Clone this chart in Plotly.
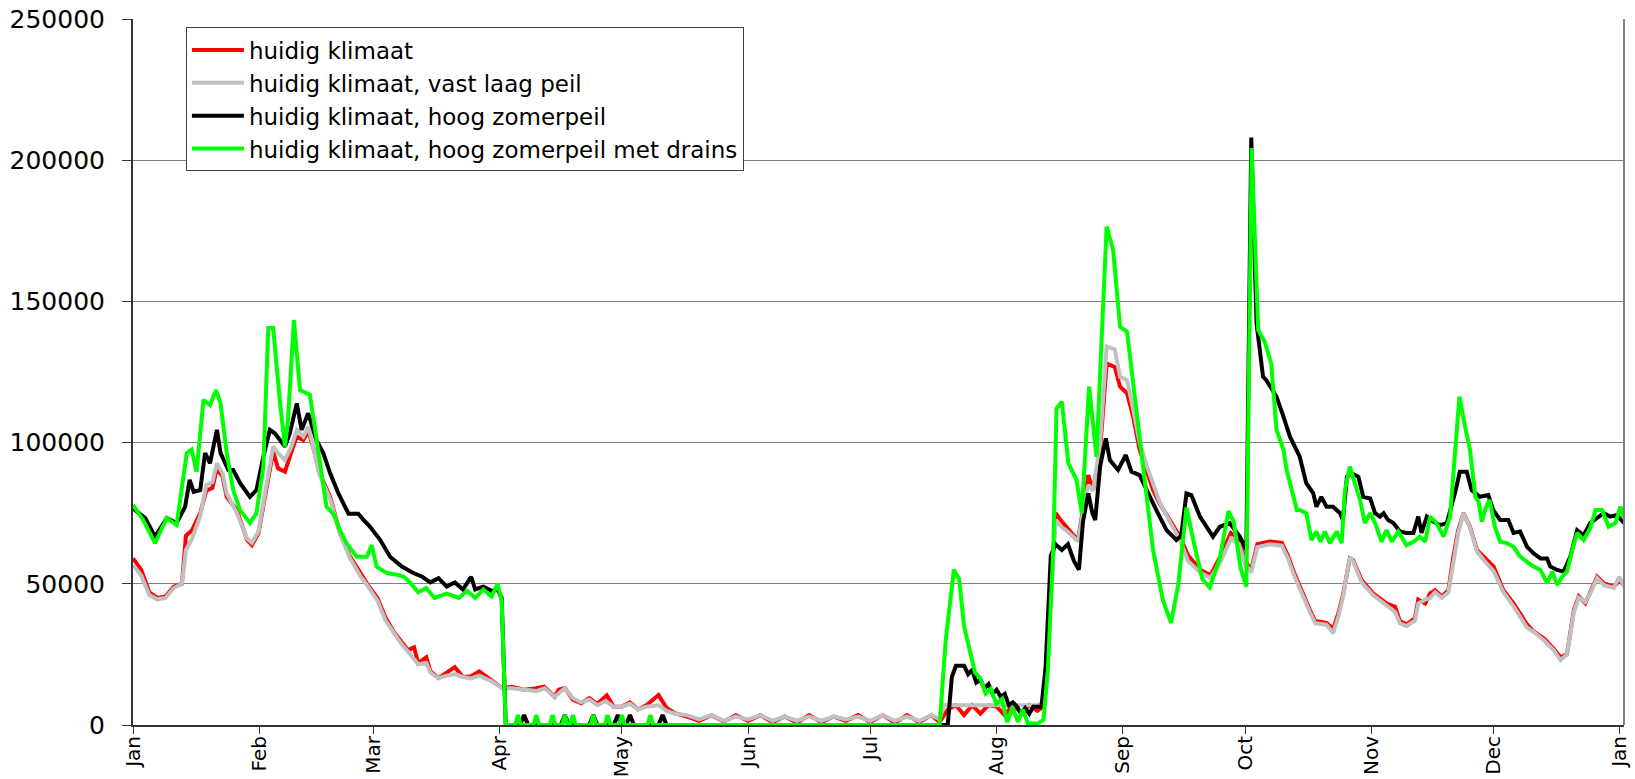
import plotly.graph_objects as go

# ---- data (day of year, value) ----
month_ticks = [0, 31, 59, 90, 120, 151, 181, 212, 243, 273, 304, 334, 365]
month_labels = ["Jan", "Feb", "Mar", "Apr", "May", "Jun", "Jul", "Aug", "Sep", "Oct", "Nov", "Dec", "Jan"]

red_days = [0, 2, 4, 6, 8, 10, 12, 13, 14.5, 16.5, 18, 19.5, 20.6, 22, 23, 25.5, 28, 29.2, 30.8, 32.4,
            34.4, 35.6, 37.3, 38.9, 40.2, 41.8, 43, 44.2, 45.8, 48.4, 50.8, 53.3, 55.7, 57.5, 60, 62, 64,
            66, 67.5, 69, 70, 72, 73, 75, 77, 79, 81, 83, 85, 88, 90.6, 93, 96, 99, 100.9, 103.5, 104.5,
            106, 108, 110, 112, 114, 116.3, 118, 120, 122, 124, 126, 129, 131, 133, 136, 139, 142, 145,
            148, 151, 154, 157, 160, 163, 166, 169, 172, 175, 178, 181, 184, 187, 190, 193, 196, 198,
            200, 202, 204, 206, 208, 210, 212, 214, 216, 218, 220, 222, 223.5, 225, 226.5, 228, 229,
            230.5, 232, 233.5, 234.5, 235.7, 237.4, 239, 241, 242.3, 244, 245.5, 247.1, 248.8, 250.4,
            252, 254.5, 257, 259, 262, 264.5, 267, 269.5, 271.5, 273, 274.5, 276, 279, 282, 283.5, 285,
            286.4, 288.9, 290.2, 293, 294.6, 295.9, 297.1, 298.7, 299.5, 301.6, 304.4, 307.7, 309.8,
            311, 312.6, 314.7, 315.5, 317.2, 318.4, 319.6, 321.3, 322.9, 324.1, 325.3, 326.6, 328.2,
            329.9, 331.5, 334, 336.4, 338.9, 342.2, 343.8, 346.3, 348.7, 350.4, 352, 353.7, 354.9,
            356.5, 357.8, 359.4, 361.1, 363.5, 364.8, 366]
red_vals = [59000, 55000, 47000, 45000, 45500, 49000, 50000, 67000, 69000, 75000, 83000, 84000, 90900,
            88000, 80800, 76100, 65500, 63700, 68000, 80000, 96800, 90900, 89700, 96800, 102100, 100900,
            104000, 98600, 89100, 80800, 68000, 59600, 53800, 50000, 45000, 38000, 33000, 29000, 26500,
            27500, 21900, 24000, 19000, 16600, 18500, 20500, 17000, 17300, 19000, 15900, 13100, 13500,
            12500, 13000, 13600, 10000, 12500, 13100, 9000, 7700, 9500, 7500, 10500, 6500, 6500, 8000,
            5500, 7000, 10600, 6000, 4200, 3000, 1500, 3500, 1200, 3500, 1500, 3500, 1000, 3000, 800,
            3500, 1000, 3000, 1500, 3500, 1000, 3500, 800, 3500, 1000, 3500, 1000, 5500, 7000, 3500,
            7000, 4000, 7000, 6500, 3500, 7000, 4500, 7000, 5000, 6500, 40000, 75000, 72000, 70200,
            67800, 65500, 80000, 88500, 83200, 97500, 128000, 126800, 119800, 117500, 109200, 97500,
            90300, 83200, 78500, 72600, 66700, 60000, 55000, 53000, 60000, 68000, 66000, 58000, 55000,
            64000, 65000, 64500, 60000, 54000, 49000, 40700, 36800, 36200, 34000, 39600, 46600, 59000,
            58400, 51300, 46600, 43100, 41900, 36800, 35600, 37900, 44400, 43000, 46600, 47700, 45500,
            47700, 59600, 69000, 75000, 70200, 62000, 59600, 56100, 47700, 43100, 35600, 33100, 30700,
            27100, 24000, 25000, 40700, 45500, 43100, 47700, 52500, 50100, 49000, 51000, 49600]

gray_days = [0, 2, 4, 6, 8, 10, 12, 13, 14.5, 16.5, 18, 19.5, 20.6, 22, 23, 25.5, 28, 29.2, 30.8, 32.4,
             34.4, 35.6, 37.3, 38.9, 40.2, 41.8, 43, 44.2, 45.8, 48.4, 50.8, 53.3, 55.7, 57.5, 60, 62,
             64, 66, 67.5, 70, 72, 73, 75, 77, 79, 81, 83, 85, 88, 90.6, 93, 96, 99, 101, 103.5, 106,
             108, 110, 112, 114, 116, 118, 120, 122, 124, 126, 129, 131, 133, 136, 139, 142, 145, 148,
             151, 154, 157, 160, 163, 166, 169, 172, 175, 178, 181, 184, 187, 190, 193, 196, 198, 199,
             205, 210, 215, 222, 223.5, 225, 226.5, 228, 229, 230.5, 232, 233.5, 234.5, 235.7, 237.4,
             239, 241, 242.3, 244, 245.5, 247.1, 248.8, 250.4, 252, 254.5, 257, 259, 262, 264.5, 267,
             269.5, 271.5, 273, 274.5, 276, 279, 282, 283.5, 285, 286.4, 288.9, 290.2, 293, 294.6,
             295.9, 297.1, 298.7, 299.5, 301.6, 304.4, 307.7, 309.8, 311, 312.6, 314.7, 315.5, 317.2,
             318.4, 319.6, 321.3, 322.9, 324.1, 325.3, 326.6, 328.2, 329.9, 331.5, 334, 336.4, 338.9,
             342.2, 343.8, 346.3, 348.7, 350.4, 352, 353.7, 354.9, 356.5, 357.8, 359.4, 361.1, 363.5,
             364.8, 366]
gray_vals = [56700, 53000, 46000, 44500, 45000, 48500, 50000, 62000, 66000, 74000, 85000, 86000, 92700,
             89000, 82000, 75000, 66000, 64500, 68500, 82600, 98600, 96300, 93800, 98600, 104500, 102100,
             105600, 98600, 88500, 80000, 67500, 59000, 53000, 49500, 44000, 37000, 32500, 28500, 26000,
             21500, 22000, 18500, 16600, 17500, 18000, 17000, 16500, 17500, 15500, 13000, 13000, 12500,
             12000, 13000, 10000, 13000, 9500, 8000, 9000, 7000, 8500, 6500, 6500, 7500, 5500, 6500, 7000,
             5000, 4000, 3500, 2000, 3500, 1500, 3000, 2000, 3500, 1500, 3000, 1500, 3000, 1500, 3000,
             2000, 3000, 1500, 3500, 1500, 3000, 1500, 3500, 2000, 7000, 7000, 7000, 7000, 7000, 8000,
             40000, 72600, 70000, 69000, 67000, 65000, 78000, 85000, 83000, 100000, 134000, 133000,
             123300, 122100, 112000, 100000, 92000, 85000, 79000, 72000, 65500, 58000, 54000, 52000,
             58000, 66000, 64000, 57000, 54000, 63000, 64000, 63500, 59000, 53000, 48000, 40000, 36000,
             35500, 32500, 38500, 46000, 59500, 58000, 50500, 46000, 42500, 40000, 36000, 35000, 37000,
             43000, 44400, 45000, 47000, 45000, 47000, 58500, 68000, 75000, 70000, 61500, 58500, 54500,
             47000, 42000, 34500, 33000, 30000, 26500, 23000, 25000, 40000, 45000, 43500, 47000, 52000,
             49500, 48500, 52500, 49000]

black_days = [0, 3, 5.4, 8.3, 10.7, 12.8, 13.9, 14.9, 16.5, 17.7, 18.9, 20.6, 21.5, 23.4, 24.6, 26.3,
              28.7, 30.3, 32, 33.6, 34.8, 36.1, 37.3, 38.5, 40.2, 41.4, 43, 45, 46.7, 48.4, 50.4, 52.9,
              55.3, 56.6, 58.2, 60.7, 63.1, 66, 68.8, 71, 73, 75, 77, 79, 81, 83, 84, 86, 88, 89.5,
              90.5, 91.5, 95, 96, 97, 105, 106, 107, 112, 113, 114, 118, 119, 120, 121, 122, 123, 129,
              130, 131, 200, 201, 202, 204, 205, 206, 207, 208, 209, 210, 211, 212, 213, 214, 215, 216,
              217, 218, 219, 220, 221, 223, 224, 225.3, 226.5, 228, 229.5, 231, 232.2, 233.2, 234.5,
              235.5, 236.2, 237.4, 238.8, 239.8, 241.8, 243.7, 245.1, 247.1, 248.8, 251.2, 253.7,
              256.1, 257.3, 258.6, 259.8, 261.9, 265.1, 266.8, 269.2, 271.7, 273.3, 274.5, 275.8,
              277.4, 278.2, 280.7, 282.4, 284, 286.4, 288, 289.7, 290.5, 291.7, 293, 294.6, 296.3,
              297, 298, 299.1, 300.8, 302, 303.7, 304.9, 306.1, 307, 308.1, 309.4, 311, 312.6, 314.3,
              315.5, 316.3, 317.6, 319.2, 320.8, 322.5, 324.5, 325.7, 327.4, 328.6, 330.6, 332.7,
              333.9, 335.6, 337.6, 338.9, 340.5, 342.2, 343.8, 345.5, 347.1, 347.9, 349.6, 351.2,
              352.8, 354.5, 356.1, 357.7, 359.4, 361, 362.6, 364.3, 366]
black_vals = [76700, 73300, 66700, 73300, 71500, 77300, 86800, 82600, 83200, 96300, 92700, 104500, 96300,
              90300, 90300, 85600, 80800, 83200, 95000, 104500, 103300, 100900, 98600, 103300, 113900,
              104500, 110400, 100900, 96300, 89100, 82100, 74800, 74800, 72600, 70200, 65500, 59600,
              56100, 53800, 52500, 50500, 52000, 49000, 50500, 48000, 52500, 48000, 49000, 47500, 48000,
              45000, 0, 0, 3500, 0, 0, 3500, 0, 0, 3500, 0, 0, 3500, 0, 0, 3500, 0, 0, 3500, 0, 0, 17000,
              21000, 21000, 18000, 19500, 15000, 16000, 13000, 14500, 11000, 12500, 10000, 11000, 7000,
              8000, 6500, 4000, 6000, 4000, 6500, 6500, 20000, 60000, 64000, 62000, 64000, 58000, 55000,
              72000, 82000, 75000, 72600, 91500, 101500, 93800, 90300, 95600, 89700, 88500, 83200, 76100,
              69000, 65500, 67000, 82000, 81400, 73800, 66700, 70200, 71500, 66700, 62000, 208000,
              142200, 123300, 122100, 116300, 109200, 102100, 95000, 85600, 82100, 77300, 80800, 77300,
              77300, 75000, 72600, 87900, 89100, 87900, 80800, 80200, 75000, 73800, 75000, 72600, 71500,
              68500, 68000, 68000, 73800, 68000, 73800, 72000, 70800, 71500, 82100, 89700, 89700, 83200,
              80800, 81400, 76100, 72600, 72600, 68000, 68500, 63100, 60800, 59000, 59000, 56100, 54900,
              54300, 59600, 69000, 67200, 71500, 73300, 75000, 73800, 74400, 71500]

green_days = [0, 2.5, 5.4, 8.3, 10.7, 13.2, 14.4, 15.6, 17.3, 18.9, 20.4, 21.5, 23, 24.6, 26.3, 28.7,
              30.3, 32, 33.2, 34.4, 36.1, 37.3, 38, 39.5, 41, 42.2, 43.4, 44.6, 46.3, 47.5, 49.2, 50.8,
              52.4, 54.9, 57.4, 58.6, 59.8, 62.3, 64.8, 66.4, 68, 70, 72, 74, 77, 80, 82, 84, 86, 88,
              89.5, 90.5, 91.5, 93.8, 94.5, 95.2, 98.3, 99, 99.7, 102.3, 103, 103.7, 105.3, 106, 106.7,
              107.3, 108, 108.7, 112.3, 113, 113.7, 115.8, 116.5, 117.2, 119.3, 120, 120.7, 126.3, 127,
              127.7, 198, 199.5, 201.5, 202.8, 204, 205.4, 206.7, 208, 209.3, 210.6, 211.9, 213.3,
              214.6, 215.9, 217.2, 218.4, 219.7, 222, 223.5, 224.6, 225.9, 226.7, 228, 229.6, 231.6,
              232.9, 234.7, 236.5, 239, 240.6, 242.3, 244, 245.5, 248, 250.4, 252.8, 254.8, 256.6,
              258.6, 260.4, 262.5, 264.3, 266.8, 268.9, 270.2, 271.9, 273.3, 274.6, 276.2, 277.8,
              279.4, 280.7, 282.4, 283.2, 285.7, 286.4, 288, 289.3, 290.5, 291.5, 292.6, 293.8, 295.5,
              296.7, 297.5, 298.7, 300, 301.2, 302.4, 303.7, 304.9, 306.5, 307.7, 309, 310.6, 312.6,
              314.3, 315.9, 317.2, 318.4, 320, 321.7, 323.3, 324.5, 325.6, 327, 328.2, 329.5, 330.3,
              331.1, 332, 333, 334.3, 335.6, 337.2, 338.9, 340.5, 342.2, 343.8, 345.5, 347.1, 348.4,
              349.6, 350.8, 352, 353.3, 354.5, 356.1, 357.7, 359, 360.6, 362.2, 363.9, 365.1, 366]
green_vals = [77900, 72600, 64400, 73300, 70800, 96300, 97500, 89700, 115100, 113300, 118600, 113800,
              96300, 83200, 76100, 71500, 75000, 91500, 140600, 140600, 114000, 98600, 107000, 143400,
              118600, 117900, 117000, 105600, 87900, 77300, 74800, 69000, 64400, 59600, 59600, 63700,
              56100, 53800, 53200, 52600, 50500, 47000, 48500, 45000, 46500, 45000, 47500, 45000, 48000,
              45500, 50000, 44000, 0, 0, 3500, 0, 0, 3500, 0, 0, 3500, 0, 0, 3500, 0, 0, 3500, 0, 0, 3500,
              0, 0, 3500, 0, 0, 3500, 0, 0, 3500, 0, 0, 30000, 55000, 51700, 35000, 25800, 18500, 16600,
              11100, 12900, 7400, 9200, 1000, 6300, 1100, 5500, 500, 500, 1800, 20000, 62000, 112100,
              114500, 92700, 86800, 75000, 119800, 95000, 176500, 168200, 141000, 139300, 121000, 91500,
              61900, 44300, 36200, 49900, 77000, 64600, 51700, 48700, 59100, 75700, 72000, 55400, 49000,
              204300, 139900, 135700, 128000, 104500, 97500, 90300, 76100, 76100, 75000, 65500, 68500,
              64900, 68500, 64400, 68500, 64400, 83200, 91500, 85600, 79700, 71500, 75000, 71500, 64900,
              69000, 64900, 68500, 63700, 64900, 66700, 64900, 73800, 71500, 66700, 73800, 97400, 116300,
              105600, 97400, 80800, 79000, 72000, 76700, 79700, 70200, 64900, 64400, 63100, 59600, 57800,
              56100, 54900, 50200, 54300, 49600, 52500, 54300, 62000, 68000, 65500, 69700, 76100, 76100,
              70200, 71500, 77300, 73000]

series = [
    ("huidig klimaat", red_days, red_vals, "#FF0000"),
    ("huidig klimaat, vast laag peil", gray_days, gray_vals, "#C0C0C0"),
    ("huidig klimaat, hoog zomerpeil", black_days, black_vals, "#000000"),
    ("huidig klimaat, hoog zomerpeil met drains", green_days, green_vals, "#00FF00"),
]

FONT = "DejaVu Sans, Liberation Sans, Arial, sans-serif"

fig = go.Figure()
for name, xs, ys, col in series:
    fig.add_trace(go.Scatter(x=xs, y=ys, mode="lines", name=name,
                             line=dict(color=col, width=4)))

fig.update_layout(
    width=1635, height=779,
    margin=dict(l=133, r=11, t=19, b=54, autoexpand=False),
    paper_bgcolor="white", plot_bgcolor="white",
    font=dict(family=FONT, color="black"),
    showlegend=True,
    legend=dict(x=0.0355, y=0.988, xanchor="left", yanchor="top",
                bgcolor="white", bordercolor="#404040", borderwidth=1,
                font=dict(family=FONT, size=23, color="black"),
                itemwidth=52, tracegroupgap=0),
    xaxis=dict(range=[0, 366], tickmode="array", tickvals=month_ticks, ticktext=month_labels,
               tickangle=-90, ticks="outside", ticklen=7, tickcolor="#333333",
               showgrid=False, zeroline=False, showline=True, linecolor="#333333", linewidth=2,
               automargin=False, ticklabelstandoff=-6,
               tickfont=dict(family=FONT, size=20, color="black")),
    yaxis=dict(range=[0, 250000], tickvals=[0, 50000, 100000, 150000, 200000, 250000],
               tickformat="d", ticks="outside", ticklen=9, tickcolor="#333333",
               showgrid=True, gridcolor="#808080", gridwidth=1,
               zeroline=False, showline=True, linecolor="#333333", linewidth=2,
               ticklabelstandoff=12, automargin=False,
               tickfont=dict(family=FONT, size=25, color="black")),
    shapes=[dict(type="line", xref="paper", yref="paper", x0=1, x1=1, y0=0, y1=1,
                 line=dict(color="#808080", width=2))],
)

fig.write_html("out.html", config={"displayModeBar": False},
               post_script="document.body.style.margin='0px';document.body.style.overflow='hidden';")
